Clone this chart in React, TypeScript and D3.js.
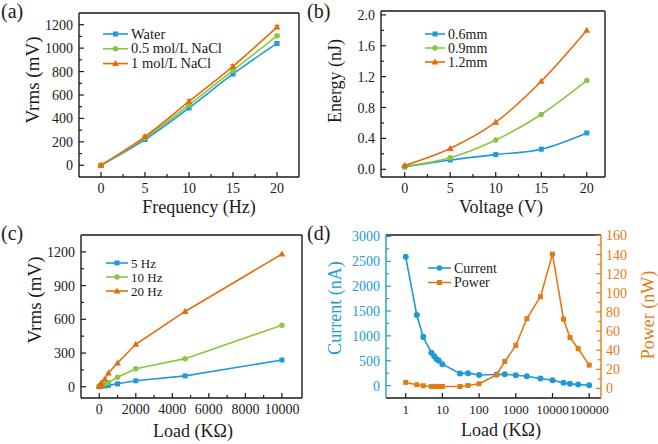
import React from 'react';
import * as d3 from 'd3';

const FONT = "'Liberation Serif', 'Times New Roman', 'DejaVu Serif', serif";
const BLUE = '#1e9ad6';
const GREEN = '#8cc63f';
const ORANGE = '#e46c0a';
const INK = '#1a1a1a';

// (a) Vrms vs Frequency
const freqA = [0, 5, 10, 15, 20];
const waterA = [0, 220, 490, 780, 1040];
const nacl05A = [0, 235, 515, 810, 1105];
const nacl1A = [0, 245, 545, 845, 1180];
const errA = [8, 12, 15, 15, 12];
const legendA = ['Water', '0.5 mol/L NaCl', '1 mol/L NaCl'];

// (b) Energy vs Voltage
const voltB = [0, 5, 10, 15, 20];
const mm06B = [0.03, 0.12, 0.19, 0.26, 0.47];
const mm09B = [0.04, 0.15, 0.38, 0.71, 1.15];
const mm12B = [0.05, 0.27, 0.61, 1.14, 1.8];
const legendB = ['0.6mm', '0.9mm', '1.2mm'];

// (c) Vrms vs Load
const loadC = [1, 10, 30, 50, 100, 300, 500, 1000, 2000, 4700, 10000];
const hz5C = [1, 2, 3, 4, 5, 7, 12, 26, 53, 97, 238];
const hz10C = [2, 4, 6, 9, 14, 25, 38, 84, 160, 250, 548];
const hz20C = [3, 8, 12, 18, 33, 68, 122, 211, 378, 670, 1180];
const legendC = ['5 Hz', '10 Hz', '20 Hz'];

// (d) Current / Power vs Load
const loadD = [1, 2, 3, 5, 6, 7, 8, 10, 30, 50, 100, 300, 500, 1000, 2000, 4700, 10000, 20000, 30000, 50000, 100000];
const currentD = [2590, 1420, 980, 660, 590, 530, 500, 430, 245, 250, 212, 222, 229, 208, 188, 142, 107, 55, 35, 20, 8];
const powerD = [6.3, 3.9, 2.8, 2.1, 2.1, 2.1, 2.1, 2.1, 2.1, 3.1, 4.9, 14.3, 28.2, 44.9, 73, 96, 140.5, 72.4, 53.2, 41.7, 24.4];
const legendD = ['Current', 'Power'];
const logTicksD = [1, 10, 100, 1000, 10000, 100000];

type Shape = 'square' | 'circle' | 'triangle';

function Marker({ shape, x, y, color, s = 5 }: { shape: Shape; x: number; y: number; color: string; s?: number }) {
  if (shape === 'square') return <rect x={x - s / 2} y={y - s / 2} width={s} height={s} fill={color} />;
  if (shape === 'circle') return <circle cx={x} cy={y} r={s * 0.55} fill={color} />;
  const h = s * 1.1;
  return <path d={`M${x},${y - h * 0.65}L${x + h * 0.62},${y + h * 0.45}L${x - h * 0.62},${y + h * 0.45}Z`} fill={color} />;
}

function range(a: number, b: number, step: number) {
  const out: number[] = [];
  for (let v = a; v <= b + 1e-9; v += step) out.push(+v.toFixed(6));
  return out;
}

type AxisSpec = {
  scale: any;
  major: number[];
  minor: number[];
  fmt: (v: number) => string;
  color?: string;
  fs?: number;
};

const TS: React.CSSProperties = { fontFamily: FONT };

function T(props: any) {
  return <text {...props} style={TS} />;
}

function Frame({ x0, x1, y0, y1, xa, ya, ya2, leftColor, rightColor }: {
  x0: number; x1: number; y0: number; y1: number; xa: AxisSpec; ya: AxisSpec; ya2?: AxisSpec; leftColor?: string; rightColor?: string;
}) {
  const M = 5, m = 3;
  const lc = leftColor || INK;
  const rc = rightColor || INK;
  return (
    <g>
      <line x1={x0} y1={y1} x2={x1} y2={y1} stroke={INK} strokeWidth={1.4} />
      <line x1={x0} y1={y0} x2={x1} y2={y0} stroke={INK} strokeWidth={1.4} />
      <line x1={x0} y1={y0} x2={x0} y2={y1} stroke={lc} strokeWidth={1.4} />
      <line x1={x1} y1={y0} x2={x1} y2={y1} stroke={rc} strokeWidth={1.4} />
      {xa.major.map((v, i) => (
        <g key={'xm' + i}>
          <line x1={xa.scale(v)} x2={xa.scale(v)} y1={y1} y2={y1 - M} stroke={INK} strokeWidth={1.2} />
          <T x={xa.scale(v)} y={y1 + 16} textAnchor="middle" fontSize={xa.fs || 14} fill={INK}>{xa.fmt(v)}</T>
        </g>
      ))}
      {xa.minor.map((v, i) => (
        <line key={'xn' + i} x1={xa.scale(v)} x2={xa.scale(v)} y1={y1} y2={y1 - m} stroke={INK} strokeWidth={1.2} />
      ))}
      {ya.major.map((v, i) => (
        <g key={'ym' + i}>
          <line x1={x0} x2={x0 + M} y1={ya.scale(v)} y2={ya.scale(v)} stroke={lc} strokeWidth={1.2} />
          <T x={x0 - 6} y={ya.scale(v) + 5} textAnchor="end" fontSize={14} fill={ya.color || INK}>{ya.fmt(v)}</T>
        </g>
      ))}
      {ya.minor.map((v, i) => (
        <line key={'yn' + i} x1={x0} x2={x0 + m} y1={ya.scale(v)} y2={ya.scale(v)} stroke={lc} strokeWidth={1.2} />
      ))}
      {ya2 && ya2.major.map((v, i) => (
        <g key={'y2m' + i}>
          <line x1={x1} x2={x1 - M} y1={ya2.scale(v)} y2={ya2.scale(v)} stroke={rc} strokeWidth={1.2} />
          <T x={x1 + 5} y={ya2.scale(v) + 5} textAnchor="start" fontSize={14} fill={ya2.color || INK}>{ya2.fmt(v)}</T>
        </g>
      ))}
      {ya2 && ya2.minor.map((v, i) => (
        <line key={'y2n' + i} x1={x1} x2={x1 - m} y1={ya2.scale(v)} y2={ya2.scale(v)} stroke={rc} strokeWidth={1.2} />
      ))}
    </g>
  );
}

function Series({ xs, ys, sx, sy, color, shape, curve, s, err }: {
  xs: number[]; ys: number[]; sx: any; sy: any; color: string; shape: Shape; curve: any; s?: number; err?: number[];
}) {
  const pts = xs.map((x, i) => [sx(x), sy(ys[i])] as [number, number]);
  const line = d3.line().curve(curve)(pts) || '';
  return (
    <g>
      <path d={line} fill="none" stroke={color} strokeWidth={1.6} />
      {err && pts.map((p, i) => {
        const top = sy(ys[i] + err[i]);
        const bot = sy(ys[i] - err[i]);
        return (
          <g key={'e' + i} stroke={color} strokeWidth={1}>
            <line x1={p[0]} x2={p[0]} y1={top} y2={bot} />
            <line x1={p[0] - 2.5} x2={p[0] + 2.5} y1={top} y2={top} />
            <line x1={p[0] - 2.5} x2={p[0] + 2.5} y1={bot} y2={bot} />
          </g>
        );
      })}
      {pts.map((p, i) => <Marker key={i} shape={shape} x={p[0]} y={p[1]} color={color} s={s} />)}
    </g>
  );
}

function Legend({ x, y, dy, items, lineLen, fs = 14.5 }: { x: number; y: number; dy: number; items: { label: string; color: string; shape: Shape }[]; lineLen: number; fs?: number }) {
  return (
    <g>
      {items.map((it, i) => (
        <g key={i}>
          <line x1={x} x2={x + lineLen} y1={y + i * dy} y2={y + i * dy} stroke={it.color} strokeWidth={1.6} />
          <Marker shape={it.shape} x={x + lineLen / 2} y={y + i * dy} color={it.color} s={5} />
          <T x={x + lineLen + 3} y={y + i * dy + 4.5} fontSize={fs} fill={INK}>{it.label}</T>
        </g>
      ))}
    </g>
  );
}

export default function App() {
  // Panel (a)
  const ax = d3.scaleLinear().domain([-2.5, 22.5]).range([79, 299]);
  const ay = d3.scaleLinear().domain([-100, 1300]).range([177, 13]);
  // Panel (b)
  const bx = d3.scaleLinear().domain([-2.6, 22]).range([381, 605]);
  const by = d3.scaleLinear().domain([-0.1, 2.05]).range([177, 11]);
  // Panel (c)
  const cx = d3.scaleLinear().domain([-1000, 11100]).range([81, 302]);
  const cy = d3.scaleLinear().domain([-100, 1350]).range([398, 235]);
  // Panel (d)
  const dx = d3.scaleLog().domain([0.29, 2.1e5]).range([386, 601]);
  const dyL = d3.scaleLinear().domain([-250, 3030]).range([398, 235]);
  const dyR = d3.scaleLinear().domain([-10, 160.5]).range([398, 235]);

  const fInt = (v: number) => String(v);
  const f1 = d3.format('.1f');
  const curve = d3.curveCatmullRom.alpha(0.5);
  const DBLUE = '#1c9bd4';
  const DORANGE = '#e57a14';

  return (
    <svg width={658} height={444} style={{ position: 'absolute', left: 0, top: 0, background: '#fff', fontFamily: FONT }}>
      <rect x={0} y={0} width={658} height={444} fill="#fff" />
      {/* Panel labels */}
      <T x={1} y={18} fontSize={20} fill={INK}>(a)</T>
      <T x={307} y={18} fontSize={20} fill={INK}>(b)</T>
      <T x={1} y={240} fontSize={20} fill={INK}>(c)</T>
      <T x={307} y={240} fontSize={20} fill={INK}>(d)</T>

      {/* (a) */}
      <Frame x0={79} x1={299} y0={13} y1={177}
        xa={{ scale: ax, major: range(0, 20, 5), minor: range(2.5, 17.5, 5), fmt: fInt }}
        ya={{ scale: ay, major: range(0, 1200, 200), minor: range(100, 1100, 200), fmt: fInt }} />
      <Series xs={freqA} ys={waterA} sx={ax} sy={ay} color={BLUE} shape="square" curve={curve} err={errA} />
      <Series xs={freqA} ys={nacl05A} sx={ax} sy={ay} color={GREEN} shape="circle" curve={curve} err={errA} />
      <Series xs={freqA} ys={nacl1A} sx={ax} sy={ay} color={ORANGE} shape="triangle" curve={curve} err={errA} />
      <Legend x={103} y={34} dy={14.8} lineLen={25} items={[
        { label: legendA[0], color: BLUE, shape: 'square' },
        { label: legendA[1], color: GREEN, shape: 'circle' },
        { label: legendA[2], color: ORANGE, shape: 'triangle' },
      ]} />
      <T x={199} y={213} textAnchor="middle" fontSize={18} fill={INK}>Frequency (Hz)</T>
      <T transform="translate(32,80) rotate(-90)" textAnchor="middle" dominantBaseline="central" fontSize={19} fill={INK}>Vrms (mV)</T>

      {/* (b) */}
      <Frame x0={381} x1={605} y0={11} y1={177}
        xa={{ scale: bx, major: range(0, 20, 5), minor: range(2.5, 17.5, 5), fmt: fInt }}
        ya={{ scale: by, major: range(0, 2.0, 0.4), minor: range(0.2, 1.8, 0.4), fmt: f1 }} />
      <Series xs={voltB} ys={mm06B} sx={bx} sy={by} color={BLUE} shape="square" curve={curve} />
      <Series xs={voltB} ys={mm09B} sx={bx} sy={by} color={GREEN} shape="circle" curve={curve} />
      <Series xs={voltB} ys={mm12B} sx={bx} sy={by} color={ORANGE} shape="triangle" curve={curve} />
      <Legend x={425} y={34} dy={14} lineLen={20} fs={14} items={[
        { label: legendB[0], color: BLUE, shape: 'square' },
        { label: legendB[1], color: GREEN, shape: 'circle' },
        { label: legendB[2], color: ORANGE, shape: 'triangle' },
      ]} />
      <T x={501} y={213} textAnchor="middle" fontSize={18} fill={INK}>Voltage (V)</T>
      <T transform="translate(335,81) rotate(-90)" textAnchor="middle" dominantBaseline="central" fontSize={18} fill={INK}>Energy (nJ)</T>

      {/* (c) */}
      <Frame x0={81} x1={302} y0={235} y1={398}
        xa={{ scale: cx, major: range(0, 10000, 2000), minor: range(1000, 9000, 2000), fmt: fInt }}
        ya={{ scale: cy, major: range(0, 1200, 300), minor: range(150, 1050, 300), fmt: fInt }} />
      <Series xs={loadC} ys={hz5C} sx={cx} sy={cy} color={BLUE} shape="square" curve={d3.curveLinear} />
      <Series xs={loadC} ys={hz10C} sx={cx} sy={cy} color={GREEN} shape="circle" curve={d3.curveLinear} />
      <Series xs={loadC} ys={hz20C} sx={cx} sy={cy} color={ORANGE} shape="triangle" curve={d3.curveLinear} />
      <Legend x={106} y={263} dy={14} lineLen={22} fs={13} items={[
        { label: legendC[0], color: BLUE, shape: 'square' },
        { label: legendC[1], color: GREEN, shape: 'circle' },
        { label: legendC[2], color: ORANGE, shape: 'triangle' },
      ]} />
      <T x={193} y={437} textAnchor="middle" fontSize={18} fill={INK}>Load (KΩ)</T>
      <T transform="translate(34,300) rotate(-90)" textAnchor="middle" dominantBaseline="central" fontSize={19} fill={INK}>Vrms (mV)</T>

      {/* (d) */}
      <Frame x0={386} x1={601} y0={235} y1={398} leftColor={DBLUE} rightColor={DORANGE}
        xa={{ scale: dx, major: logTicksD, minor: [], fmt: fInt, fs: 13 }}
        ya={{ scale: dyL, major: range(0, 3000, 500), minor: range(250, 2750, 500), fmt: fInt, color: DBLUE }}
        ya2={{ scale: dyR, major: range(0, 160, 20), minor: range(10, 150, 20), fmt: fInt, color: DORANGE }} />
      <Series xs={loadD} ys={currentD} sx={dx} sy={dyL} color={DBLUE} shape="circle" curve={d3.curveLinear} s={5.5} />
      <Series xs={loadD} ys={powerD} sx={dx} sy={dyR} color={DORANGE} shape="square" curve={d3.curveLinear} s={5} />
      <Legend x={428} y={268} dy={14.5} lineLen={23} fs={14} items={[
        { label: legendD[0], color: DBLUE, shape: 'circle' },
        { label: legendD[1], color: DORANGE, shape: 'square' },
      ]} />
      <T x={501} y={436} textAnchor="middle" fontSize={18} fill={INK}>Load (KΩ)</T>
      <T transform="translate(335,308) rotate(-90)" textAnchor="middle" dominantBaseline="central" fontSize={18} fill={DBLUE}>Current (nA)</T>
      <T transform="translate(648,315) rotate(-90)" textAnchor="middle" dominantBaseline="central" fontSize={18} fill={DORANGE}>Power (nW)</T>
    </svg>
  );
}
